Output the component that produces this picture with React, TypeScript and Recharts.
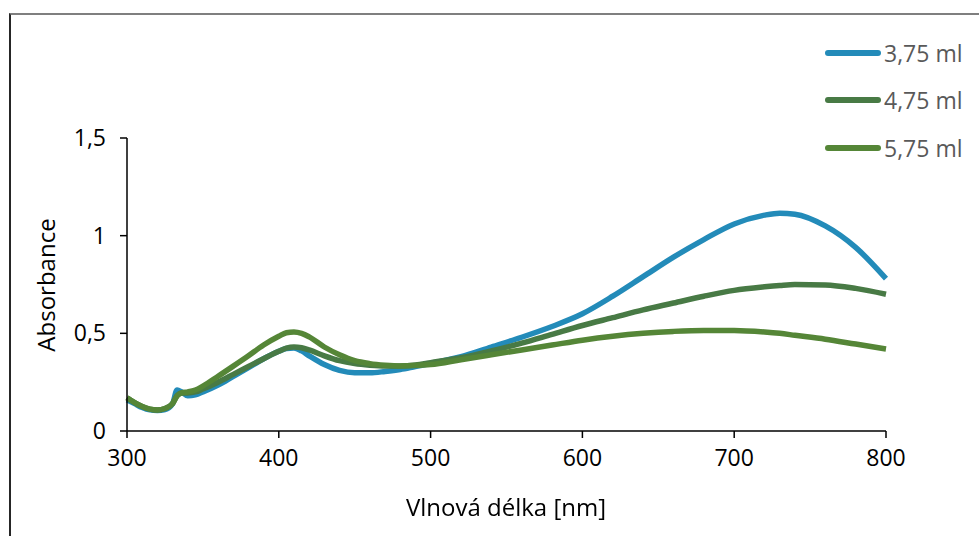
import React from "react";
import { LineChart, Line, XAxis, YAxis } from "recharts";

// wavelength [nm]
const wavelengths = [
  300, 305, 310, 315, 320, 325, 330, 333, 336, 340, 345, 350, 360, 370, 380, 390,
  400, 405, 410, 415, 420, 430, 440, 450, 460, 470, 480, 490, 500, 520, 540, 560,
  580, 600, 620, 640, 660, 680, 700, 720, 730, 740, 760, 780, 800,
];

const abs375 = [
  0.16, 0.14, 0.12, 0.108, 0.105, 0.11, 0.14, 0.21, 0.2, 0.18, 0.185, 0.2, 0.235, 0.28, 0.325, 0.37,
  0.408, 0.422, 0.425, 0.41, 0.385, 0.34, 0.31, 0.298, 0.298, 0.305, 0.315, 0.33, 0.345, 0.38, 0.43, 0.48,
  0.535, 0.6, 0.69, 0.79, 0.89, 0.98, 1.06, 1.105, 1.115, 1.11, 1.05, 0.94, 0.78,
];

const abs475 = [
  0.17, 0.145, 0.125, 0.112, 0.108, 0.115, 0.14, 0.18, 0.195, 0.195, 0.2, 0.215, 0.25, 0.29, 0.33, 0.37,
  0.408, 0.424, 0.43, 0.426, 0.415, 0.385, 0.36, 0.345, 0.337, 0.333, 0.333, 0.338, 0.35, 0.375, 0.41, 0.45,
  0.495, 0.54, 0.58, 0.62, 0.655, 0.69, 0.72, 0.738, 0.745, 0.75, 0.748, 0.73, 0.7,
];

const abs575 = [
  0.17, 0.145, 0.125, 0.112, 0.108, 0.115, 0.14, 0.18, 0.195, 0.2, 0.21, 0.23, 0.28, 0.332, 0.385, 0.44,
  0.485, 0.503, 0.507, 0.5, 0.482, 0.43, 0.39, 0.36, 0.345, 0.337, 0.333, 0.335, 0.34, 0.365, 0.39, 0.415,
  0.44, 0.465, 0.485, 0.5, 0.51, 0.515, 0.515, 0.507, 0.5, 0.49, 0.47, 0.445, 0.42,
];

const xTicks = [300, 400, 500, 600, 700, 800];
const yTicks = [0, 0.5, 1, 1.5];

const series = [
  { key: "s375", name: "3,75 ml", color: "#238bb9", values: abs375 },
  { key: "s475", name: "4,75 ml", color: "#487a45", values: abs475 },
  { key: "s575", name: "5,75 ml", color: "#558637", values: abs575 },
];

const data = wavelengths.map((w, i) => {
  const row: Record<string, number> = { w };
  series.forEach((s) => (row[s.key] = s.values[i]));
  return row;
});

const font = '"Open Sans", sans-serif';
const fmt = (v: number) => String(v).replace(".", ",");

function LegendBox() {
  return (
    <div style={{ position: "absolute", left: 825, top: 29 }}>
      {series.map((s) => (
        <div key={s.key} style={{ display: "flex", alignItems: "center", height: 47.5 }}>
          <div style={{ width: 56, height: 6, borderRadius: 3, background: s.color }} />
          <span style={{ marginLeft: 3, fontSize: 23, color: "#595959", fontFamily: font }}>{s.name}</span>
        </div>
      ))}
    </div>
  );
}

export default function App() {
  return (
    <div style={{ position: "fixed", left: 0, top: 0, width: 979, height: 536, background: "#fff", fontFamily: font }}>
      {/* chart frame (only top/left edges are visible in the crop) */}
      <div
        style={{
          position: "absolute",
          left: 9,
          top: 13,
          width: 980,
          height: 530,
          borderTop: "2px solid #7f7f7f",
          borderLeft: "2px solid #262626",
        }}
      />
      <div style={{ position: "absolute", left: 0, top: 0 }}>
        <LineChart width={979} height={536} data={data} margin={{ top: 138, right: 93, bottom: 45, left: 0 }}>
          <XAxis
            dataKey="w"
            type="number"
            domain={[300, 800]}
            ticks={xTicks}
            tickSize={7}
            tickMargin={12}
            height={60}
            stroke="#000"
            strokeWidth={1.5}
            tick={{ fontSize: 23, fill: "#000", fontFamily: font }}
          />
          <YAxis
            type="number"
            domain={[0, 1.5]}
            ticks={yTicks}
            tickFormatter={fmt}
            tickSize={7}
            tickMargin={14}
            width={127}
            stroke="#000"
            strokeWidth={1.5}
            tick={{ fontSize: 23, fill: "#000", fontFamily: font }}
          />
          {series.map((s) => (
            <Line
              key={s.key}
              dataKey={s.key}
              name={s.name}
              type="monotone"
              stroke={s.color}
              strokeWidth={5.5}
              dot={false}
              activeDot={false}
              isAnimationActive={false}
            />
          ))}
        </LineChart>
      </div>
      <LegendBox />
      <div
        style={{
          position: "absolute",
          left: 0,
          width: 1012,
          top: 490,
          textAlign: "center",
          fontSize: 24,
          color: "#000",
        }}
      >
        Vlnová délka [nm]
      </div>
      <div
        style={{
          position: "absolute",
          left: 45,
          top: 285,
          transform: "translate(-50%, -50%) rotate(-90deg)",
          fontSize: 24,
          color: "#000",
          whiteSpace: "nowrap",
        }}
      >
        Absorbance
      </div>
    </div>
  );
}
